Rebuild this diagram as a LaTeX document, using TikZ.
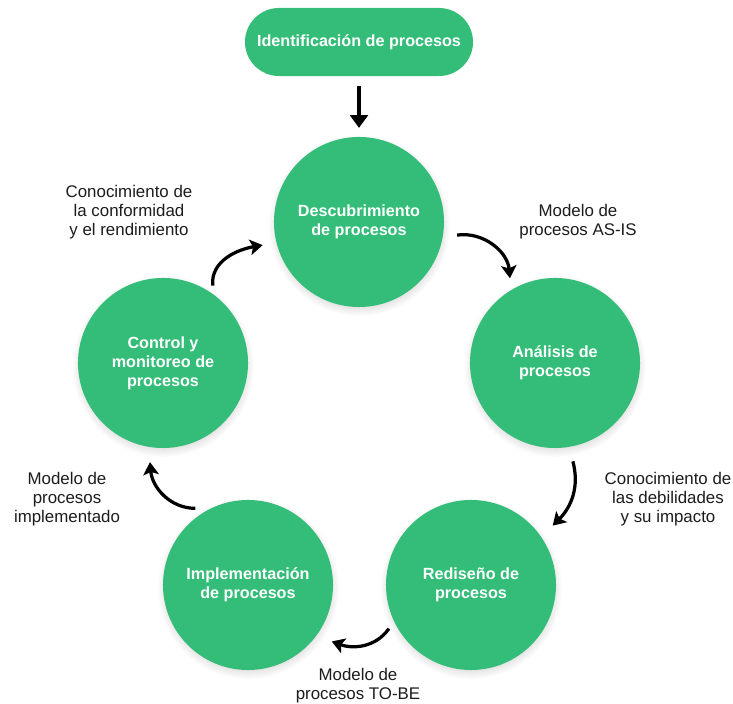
\documentclass[tikz,border=0pt]{standalone}
\usepackage{fontspec}
\setmainfont{Liberation Sans}
\usetikzlibrary{arrows.meta,shadows}

\definecolor{verde}{RGB}{51,189,120}
\definecolor{texto}{RGB}{28,28,28}

\tikzset{
  etapa/.style={circle, fill=verde, minimum size=4.25cm, inner sep=0pt,
    text=white, align=center, font=\fontsize{11.5}{13.5}\selectfont\bfseries,
    circular drop shadow={shadow xshift=0pt, shadow yshift=-2pt,
      shadow scale=1.07, opacity=0.3}},
  inicio/.style={rectangle, rounded corners=0.85cm, fill=verde,
    minimum width=5.7cm, minimum height=1.7cm, text=white,
    font=\fontsize{11.5}{13.5}\selectfont\bfseries},
  etiqueta/.style={align=center, text=texto,
    font=\fontsize{12}{13.5}\selectfont},
  flecha/.style={line width=2.3pt, black,
    -{Stealth[length=9pt, width=11pt, inset=2pt]}},
  flecha recta/.style={line width=3pt, black,
    -{Triangle[length=9pt, width=12.5pt]}}
}

\begin{document}
\begin{tikzpicture}[x=0.025cm, y=0.025cm]
\useasboundingbox (0,0) rectangle (733,704);

% Etapas
\node[inicio] (ident) at (359,662) {Identificación de procesos};

\node[etapa] (desc) at (359,482) {Descubrimiento\\de procesos};
\node[etapa] (anal) at (555,341) {Análisis de\\procesos};
\node[etapa] (redis) at (471,119) {Rediseño de\\procesos};
\node[etapa] (impl) at (248,119) {Implementación\\de procesos};
\node[etapa] (ctrl) at (163,341) {Control y\\monitoreo de\\procesos};

% Flechas
\draw[flecha recta, shorten <=0.25cm, shorten >=0.22cm] (ident.south) -- (desc.north);

\draw[flecha] ([shift={(-7.6:99)}]desc.center) to[out=8, in=95]
  ([shift={(118:96)}]anal.center);
\draw[flecha] ([shift={(-79.7:100)}]anal.center) to[out=-75, in=45]
  ([shift={(36:101)}]redis.center);
\draw[flecha] ([shift={(208:93)}]redis.center) to[out=-125, in=-20]
  ([shift={(-34:101)}]impl.center);
\draw[flecha] ([shift={(124.5:93)}]impl.center) to[out=180, in=-85]
  ([shift={(-97.5:100)}]ctrl.center);
\draw[flecha] ([shift={(57.3:92)}]ctrl.center) to[out=95, in=190]
  ([shift={(193.5:99)}]desc.center);

% Etiquetas
\node[etiqueta] (asis) at (578,482) {Modelo de\\procesos AS-IS};
\node[etiqueta] (debil) at (668,205) {Conocimiento de\\las debilidades\\y su impacto};
\node[etiqueta] (tobe) at (358,18) {Modelo de\\procesos TO-BE};
\node[etiqueta] (implem) at (67,205) {Modelo de\\procesos\\implementado};
\node[etiqueta] (conf) at (129,492) {Conocimiento de\\la conformidad\\y el rendimiento};

\end{tikzpicture}
\end{document}
